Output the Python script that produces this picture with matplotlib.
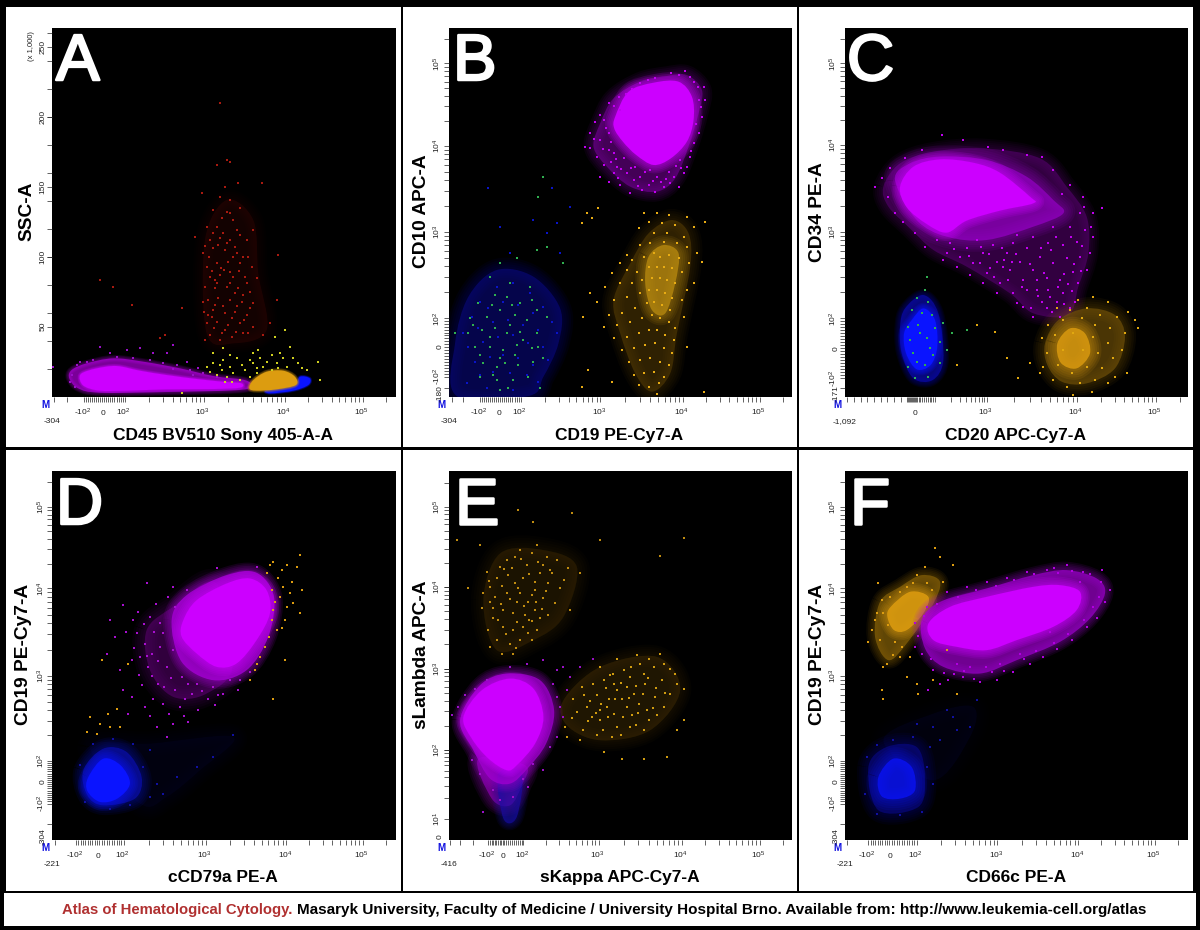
import numpy as np
import matplotlib
matplotlib.use('Agg')
import matplotlib.pyplot as plt
import matplotlib.patheffects as pe
from matplotlib.patches import PathPatch, Rectangle
from matplotlib.path import Path

plt.rcParams['font.family'] = ['Liberation Sans', 'DejaVu Sans']
plt.rcParams['mathtext.default'] = 'regular'

W, H = 1200, 930
MAGENTA = '#cc00ff'
BLUE = '#0a14ff'
ORANGE = '#dc9c10'
RED = '#a81a10'
YELLOW = '#cfcf20'
GREEN = '#30b050'

# panel data in display channels of each plot

# A
a_mag_core = [(245,1120),(290,1105),(350,1098),(420,1112),(500,1125),(600,1138),(680,1146),(725,1150),(720,1163),(640,1167),(500,1168),(380,1172),(300,1172),(255,1160),(240,1140)]
a_mag_halo = [(215,1110),(260,1090),(340,1075),(430,1085),(540,1105),(640,1128),(740,1142),(735,1168),(500,1176),(300,1178),(235,1165),(208,1135)]
a_orange_core = [(748,1165),(760,1140),(800,1115),(850,1112),(885,1130),(888,1155),(830,1168),(770,1172)]
a_blue_core = [(800,1170),(880,1158),(900,1130),(930,1135),(925,1155),(880,1172),(810,1180)]
a_red_area = [(615,720),(680,600),(760,660),(775,820),(800,990),(700,1030),(620,1000)]
a_red_dots = [(660,308),(680,480),(650,495),(690,485),(785,548),(715,550),(675,560),(660,590),(605,580),(690,600),(640,630),(680,635),(720,625),(620,680),(585,710),(650,680),(700,660),(760,690),(630,720),(660,715),(690,720),(720,705),(740,720),(610,760),(640,745),(675,750),(710,760),(745,770),(835,765),(620,800),(650,790),(685,785),(720,790),(755,800),(630,830),(660,825),(700,830),(735,830),(770,835),(615,860),(645,865),(680,860),(715,865),(750,875),(625,900),(655,895),(690,900),(725,905),(760,910),(830,900),(612,935),(640,930),(675,940),(705,935),(740,945),(620,970),(650,965),(685,975),(720,970),(760,980),(810,970),(630,1005),(665,1000),(695,1010),(730,1000),(545,925),(480,1015),(495,1005),(340,860),(300,840),(395,915),(660,1020),(635,950),(672,810),(698,770),(668,700),(628,772),(740,850),(705,880),(645,840),(655,735),(682,728),(705,742),(615,738),(637,812),(662,805),(690,815),(718,812),(728,770),(650,850),(690,850),(728,885),(645,915),(668,918),(712,918),(750,925),(625,945),(695,955),(732,960),(608,905),(642,985),(675,990),(708,995),(745,1000),(790,1005),(615,1020),(690,640),(665,655),(710,690),(640,700)]
a_yellow_dots = [(668,1045),(620,1100),(640,1090),(670,1080),(690,1100),(700,1120),(650,1125),(680,1130),(720,1140),(735,1110),(760,1090),(775,1050),(790,1100),(750,1130),(825,1010),(855,990),(840,1060),(870,1040),(830,1090),(860,1100),(895,1090),(955,1085),(920,1110),(770,1120),(710,1075),(780,1075),(640,1060),(665,1110),(545,1178),(960,1140),(850,1075),(815,1110),(630,1115),(690,1065),(660,1095),(725,1095),(750,1080),(770,1105),(800,1085),(815,1065),(835,1105),(880,1075),(905,1105),(760,1060),(695,1145),(675,1145)]
a_purple_dots = [(330,1060),(500,1060),(520,1035),(420,1045),(595,1105),(560,1085),(460,1060),(240,1085),(160,1100),(300,1040),(380,1050),(350,1070),(400,1075),(450,1080),(490,1090),(530,1095),(570,1110),(610,1120),(650,1130),(280,1080),(230,1095),(215,1125),(210,1145),(226,1160),(260,1085),(580,1125),(520,1108)]

# B
b_mag_core = [(645,350),(685,275),(760,248),(835,245),(875,290),(880,360),(860,425),(812,475),(760,495),(708,465),(668,425),(642,385)]
b_mag_halo = [(600,370),(640,295),(720,245),(800,228),(860,225),(905,270),(895,340),(865,440),(825,535),(770,575),(690,560),(620,500),(580,440)]
b_mag_dots = [(855,212),(880,245),(910,262),(835,225),(765,235),(720,250),(695,268),(655,290),(625,310),(600,345),(585,365),(570,400),(555,440),(600,420),(625,450),(590,470),(610,495),(640,520),(625,545),(660,555),(690,580),(725,570),(700,540),(745,555),(765,575),(790,560),(810,550),(835,560),(850,520),(868,470),(880,430),(895,400),(905,350),(915,300),(895,300),(650,500),(680,520),(720,530),(770,530),(805,515),(840,480),(860,500),(600,530),(570,445),(660,330),(625,400),(640,460),(672,475),(705,500),(750,510),(617,383),(633,427),(608,447),(648,478),(663,508),(693,503),(733,517),(782,545),(821,531),(843,503),(873,452),(888,372),(901,322),(892,262),(868,232),(813,218),(743,241),(676,281),(641,318),(612,361),(583,418),(631,487),(654,533),(712,557),(757,543),(797,537),(826,497)]
b_orange_core = [(745,770),(790,735),(835,760),(825,850),(795,940),(755,930),(735,850)]
b_orange_halo = [(690,790),(745,700),(815,660),(865,700),(870,800),(830,1000),(810,1120),(755,1175),(705,1120),(660,1000),(640,900)]
b_orange_dots = [(560,640),(575,655),(545,670),(595,625),(730,640),(770,640),(805,645),(860,650),(915,665),(745,665),(785,670),(825,675),(880,680),(715,685),(760,700),(800,700),(850,710),(680,765),(720,735),(750,730),(790,725),(830,730),(860,740),(890,760),(660,790),(695,780),(730,770),(760,760),(780,770),(805,765),(835,775),(865,790),(905,785),(635,820),(680,810),(710,815),(745,800),(770,800),(790,800),(815,805),(845,815),(880,850),(570,880),(615,860),(660,850),(695,850),(725,840),(755,835),(780,835),(800,840),(825,850),(860,870),(590,905),(640,900),(680,890),(720,880),(745,870),(770,870),(795,880),(815,895),(845,900),(625,945),(665,940),(705,925),(740,910),(760,905),(785,915),(810,930),(850,950),(610,980),(650,975),(690,965),(725,955),(755,945),(780,955),(805,965),(825,985),(550,950),(640,1015),(680,1010),(715,1000),(745,990),(770,990),(795,1005),(820,1020),(860,1040),(665,1050),(700,1045),(735,1035),(765,1030),(790,1045),(815,1060),(685,1085),(720,1080),(750,1075),(780,1085),(805,1095),(700,1125),(730,1120),(760,1115),(790,1130),(565,1110),(635,1145),(715,1155),(745,1160),(775,1150),(545,1160),(770,1183),(910,1175)]
b_blue_halo = [(165,1030),(205,890),(290,810),(400,830),(480,925),(475,1030),(430,1130),(385,1188),(170,1188)]
b_blue_dots = [(240,905),(290,860),(340,850),(390,880),(430,920),(215,950),(265,925),(310,905),(355,915),(400,940),(455,965),(190,1000),(235,985),(280,965),(325,960),(370,975),(415,990),(470,1000),(205,1040),(250,1025),(295,1010),(340,1005),(385,1030),(430,1040),(225,1085),(270,1070),(310,1065),(355,1075),(400,1095),(445,1080),(240,1125),(280,1115),(330,1120),(380,1125),(415,1145),(200,1150),(260,1165),(340,1170),(265,565),(455,565),(400,660),(300,680),(470,670),(510,620),(440,700),(330,760),(480,760)]
b_green_dots = [(430,530),(415,590),(440,740),(410,750),(350,775),(300,790),(490,790),(270,830),(330,850),(390,860),(285,885),(235,910),(320,890),(360,910),(410,930),(210,955),(260,950),(300,930),(345,945),(380,960),(440,950),(205,1000),(245,990),(285,985),(320,1000),(360,995),(410,1000),(225,1040),(270,1040),(310,1050),(350,1035),(395,1045),(430,1075),(250,1090),(290,1100),(315,1090),(355,1095),(400,1085),(240,1130),(290,1140),(340,1140),(385,1130),(165,1000),(300,1170),(420,1165),(275,915),(335,915),(395,900),(220,975),(270,1010),(330,975),(370,1020),(240,1065),(300,1075),(345,1065),(415,1040),(280,1125),(325,1165)]

# C
c_mag_core = [(300,560),(340,500),(420,478),(520,488),(600,518),(690,590),(700,610),(600,632),(500,662),(440,698),(380,672),(320,622)]
c_mag_mid = [(285,540),(330,490),(420,470),(560,480),(680,530),(760,600),(790,640),(700,680),(560,720),(440,710),(350,660)]
c_mag_halo = [(250,560),(300,490),(400,455),(550,445),(720,475),(800,560),(860,650),(865,760),(835,860),(805,945),(700,940),(630,880),(500,800),(400,750),(330,685),(265,620)]
c_mag_dots = [(225,560),(245,535),(270,505),(315,475),(365,450),(425,405),(490,420),(565,440),(610,450),(680,465),(725,470),(760,510),(810,555),(850,590),(880,640),(905,625),(880,710),(870,760),(860,810),(835,850),(825,905),(440,760),(480,770),(520,790),(560,820),(600,850),(640,880),(670,920),(700,950),(740,925),(780,950),(810,925),(450,730),(500,745),(550,760),(590,785),(630,810),(670,840),(710,870),(750,890),(790,880),(530,720),(580,735),(620,760),(660,785),(700,810),(740,835),(780,840),(820,815),(640,730),(680,745),(720,770),(760,790),(800,775),(840,770),(700,710),(745,730),(790,735),(830,725),(855,690),(760,680),(810,680),(840,640),(410,720),(375,740),(345,700),(310,665),(285,640),(265,590),(430,780),(470,800),(510,825),(550,850),(590,880),(650,910),(540,790),(610,800),(680,870),(725,905),(770,905),(463,747),(507,769),(543,741),(571,803),(613,781),(647,763),(689,793),(731,819),(773,861),(817,873),(793,913),(757,937),(713,889),(667,861),(623,841),(583,831),(567,761),(607,745),(651,705),(723,743),(767,711),(813,711),(847,737),(823,793),(791,821),(753,751),(711,841),(637,785),(693,925),(743,869),(843,813),(803,853),(873,681),(851,621),(787,581)]
c_blue_core = [(335,960),(370,925),(405,960),(412,1040),(392,1095),(350,1108),(318,1060),(312,1000)]
c_blue_halo = [(315,925),(370,885),(415,940),(430,1080),(398,1140),(340,1135),(305,1060),(300,980)]
c_orange_core = [(772,1030),(810,985),(855,1000),(870,1060),(830,1105),(782,1088)]
c_orange_halo = [(735,1030),(775,960),(860,925),(945,945),(975,1010),(945,1105),(860,1150),(785,1145),(742,1095)]
c_orange_dots = [(880,890),(835,900),(925,905),(985,935),(1005,960),(770,925),(810,930),(860,925),(900,945),(950,950),(745,975),(790,960),(845,955),(885,975),(930,985),(975,1000),(1015,985),(725,1015),(765,1005),(820,1000),(880,1010),(925,1030),(965,1050),(740,1060),(790,1050),(850,1050),(895,1060),(940,1075),(980,1120),(730,1100),(775,1095),(815,1120),(860,1100),(905,1105),(945,1130),(760,1140),(800,1160),(840,1150),(885,1140),(925,1150),(820,1185),(875,1175),(690,1090),(655,1135),(620,1075),(585,995),(530,975),(470,1095),(720,1120)]
c_green_dots = [(375,870),(350,895),(385,905),(335,930),(365,940),(395,945),(325,980),(355,975),(405,985),(330,1020),(380,1015),(420,1025),(340,1060),(400,1065),(325,1100),(375,1095),(420,1090),(345,1135),(385,1130),(430,970),(455,1000),(500,990),(360,1000),(390,1045),(350,1085),(440,1050),(380,830)]

# D
d_mag_core = [(550,510),(590,450),(680,400),(750,385),(800,420),(810,490),(770,570),(710,640),(650,650),(590,610),(545,560)]
d_mag_mid = [(515,510),(560,435),(680,375),(770,368),(822,440),(805,560),(740,660),(640,690),(545,635)]
d_mag_halo = [(440,540),(520,470),(650,400),(700,640),(620,730),(520,740),(450,660)]
d_mag_dots = [(440,400),(520,410),(560,420),(650,355),(770,350),(330,510),(370,465),(400,510),(345,560),(410,550),(450,500),(480,520),(435,580),(480,590),(525,470),(320,610),(395,630),(445,650),(500,650),(545,680),(590,700),(640,710),(690,690),(720,690),(750,665),(370,720),(425,705),(475,700),(525,720),(575,730),(625,745),(670,730),(715,720),(385,790),(435,770),(490,760),(540,770),(595,780),(645,765),(470,830),(520,820),(565,815),(360,660),(500,860),(455,610),(520,600),(490,550),(420,620),(460,745),(555,745),(413,487),(467,463),(503,441),(377,547),(431,523),(463,547),(403,593),(441,617),(473,633),(417,673),(457,677),(491,709),(513,683),(563,701),(607,723),(653,733),(507,791),(553,797),(451,797),(397,741)]
d_blue_core = [(265,980),(310,925),(362,945),(390,1000),(352,1045),(300,1055),(262,1022)]
d_blue_halo = [(250,960),(310,895),(380,905),(425,980),(405,1045),(310,1065),(262,1035)]
d_blue_far = [(270,890),(450,880),(700,860),(600,960),(500,1040),(420,1060)]
d_blue_dots = [(280,880),(340,865),(400,880),(450,900),(240,945),(430,950),(470,1000),(450,1040),(490,1030),(255,1055),(330,1075),(390,1065),(530,980),(590,950),(640,920),(700,855)]
d_orange_dots = [(820,335),(860,345),(890,350),(800,370),(835,385),(875,395),(900,315),(815,420),(850,410),(905,420),(825,455),(860,470),(880,460),(900,490),(815,510),(855,510),(830,540),(855,630),(780,620),(765,660),(820,745),(270,800),(325,790),(300,820),(330,830),(360,830),(290,850),(385,640),(305,630),(350,775),(810,345),(845,360),(840,440),(870,430),(820,480),(845,535),(808,560),(795,590),(770,640),(750,690),(260,845)]

# E
e_mag_core = [(190,800),(245,720),(330,685),(400,715),(430,800),(405,880),(350,945),(320,960),(265,925),(215,865)]
e_mag_halo = [(180,810),(240,705),(320,670),(420,690),(462,780),(438,880),(382,955),(330,1000),(270,985),(220,900)]
e_mag_low = [(235,925),(375,945),(365,1005),(330,1065),(275,1045)]
e_blue_low = [(295,970),(365,970),(350,1100),(310,1105)]
e_mag_dots = [(155,795),(175,770),(195,735),(225,715),(260,690),(330,650),(380,640),(430,630),(470,660),(490,650),(460,700),(500,720),(470,740),(490,800),(470,860),(450,890),(400,940),(370,985),(340,1040),(300,1050),(250,1085),(280,1020),(240,970),(215,930),(540,650),(580,625),(510,680),(480,770),(430,960),(385,1010)]
e_orange_upper = [(250,450),(300,310),(430,300),(530,350),(490,500),(400,570),(290,600)]
e_orange_lower = [(490,750),(600,650),(770,620),(840,720),(750,840),(600,870),(500,825)]
e_orange_dots = [(355,180),(515,190),(400,215),(285,215),(240,285),(170,270),(410,285),(345,320),(440,320),(300,350),(380,345),(420,370),(345,400),(270,410),(405,420),(205,415),(350,455),(385,455),(310,480),(420,505),(340,540),(295,510),(360,570),(270,590),(780,318),(850,265),(600,270),(360,300),(395,310),(320,330),(430,345),(470,330),(505,355),(540,370),(260,365),(290,385),(325,375),(370,385),(405,395),(445,400),(480,415),(250,430),(285,440),(320,430),(360,430),(395,435),(430,445),(465,460),(510,480),(245,475),(280,475),(340,490),(375,495),(405,480),(445,495),(265,540),(310,530),(370,530),(410,540),(290,570),(330,580),(395,570),(305,610),(340,610),(337,353),(363,327),(413,337),(457,369),(307,407),(353,413),(387,371),(437,423),(271,457),(303,463),(329,447),(373,467),(409,457),(351,517),(387,511),(317,551),(279,503),(425,477),(383,549),(347,593),(449,359),(491,389),(313,357),(267,393),(397,513)]
e_orange2_dots = [(640,700),(690,680),(730,670),(590,735),(650,720),(700,730),(560,770),(620,770),(680,770),(600,810),(650,830),(740,780),(790,640),(830,700),(610,905),(665,925),(800,920),(500,860),(600,650),(650,625),(710,615),(780,610),(545,710),(610,690),(670,660),(720,640),(760,650),(810,655),(520,745),(580,700),(630,675),(680,710),(735,700),(785,690),(850,715),(530,785),(575,800),(625,745),(665,745),(715,760),(765,740),(810,730),(495,830),(550,840),(600,780),(640,790),(695,795),(745,810),(790,770),(540,870),(590,855),(635,860),(690,830),(730,840),(850,810),(830,840),(730,925),(617,713),(663,697),(707,707),(743,683),(571,753),(603,761),(643,747),(687,743),(729,731),(767,713),(587,787),(623,801),(667,799),(713,787),(757,773),(563,811),(609,839),(663,853),(707,823),(771,795),(639,671),(691,649),(747,627),(553,733),(517,803),(793,727),(823,671)]

# F
f_mag_core = [(385,520),(450,470),(560,440),(700,410),(780,405),(840,425),(830,480),(760,530),(650,570),(560,600),(470,590),(400,570)]
f_mag_halo = [(365,510),(420,455),(560,415),(700,375),(800,360),(890,385),(915,430),(870,505),(780,575),(650,630),(540,670),(430,650),(375,595)]
f_mag_dots = [(345,520),(380,470),(440,425),(500,410),(560,395),(620,385),(680,365),(740,360),(800,345),(850,365),(905,360),(930,420),(915,455),(890,505),(860,530),(815,570),(770,595),(730,620),(690,640),(640,665),(590,690),(540,695),(490,680),(445,690),(400,660),(365,610),(345,590),(510,650),(600,640),(470,640),(575,665),(660,610),(750,545),(880,470),(840,395),(775,370),(420,700),(385,720),(461,671),(523,687),(557,651),(613,661),(673,627),(709,603),(761,577),(803,553),(851,509),(897,441),(903,397),(871,371),(817,363),(761,353),(701,371),(643,391),(587,407),(529,421),(473,441),(411,463),(371,497),(353,557),(393,627),(431,667),(491,661)]
f_orange_core = [(272,470),(330,425),(385,440),(370,490),(320,540),(282,540),(262,500)]
f_orange_halo = [(240,455),(300,410),(365,375),(420,395),(395,470),(320,580),(265,630),(225,560)]
f_blue_core = [(235,980),(280,925),(335,950),(345,1020),(300,1045),(245,1038)]
f_blue_halo = [(205,950),(260,890),(350,890),(375,980),(355,1070),(235,1080)]
f_blue_far = [(250,870),(400,790),(520,770),(510,860),(400,990)]
f_blue_dots = [(200,920),(230,885),(280,870),(340,860),(390,890),(380,950),(400,1000),(365,1085),(300,1095),(230,1090),(195,1030),(420,870),(470,840),(510,830),(440,780),(530,750),(350,820),(400,830),(460,800)]
f_orange_dots = [(405,295),(420,320),(375,350),(350,375),(460,345),(380,400),(320,410),(235,400),(430,395),(270,440),(250,490),(215,540),(205,575),(260,640),(250,650),(245,720),(300,620),(320,680),(350,700),(400,690),(470,730),(250,745),(355,730),(440,600),(245,450),(300,425),(340,400),(395,420),(230,490),(265,525),(225,510),(240,570),(285,575),(305,590),(280,615),(330,620)]

# x tick anchors: value -100, 0, 100, 1e3, 1e4, 1e5
a_xt = [252, 312, 375, 612, 855, 1088]
b_xt = [240, 300, 362, 600, 848, 1078]
c_xt = [322, 350, 405, 560, 830, 1068]
d_xt = [228, 298, 372, 617, 859, 1088]
e_xt = [265, 313, 370, 596, 845, 1078]
f_xt = [205, 275, 350, 592, 835, 1065]
# y tick anchors, same order
b_yt = [1130, 1040, 955, 695, 437, 190]
c_yt = [1135, 1045, 955, 695, 435, 190]
d_yt = [1060, 995, 932, 678, 415, 170]
f_yt = [1060, 995, 932, 678, 415, 170]

panels = [
    dict(name='A', xlim=(157, 1187), ylim=(1190, 84), px=(52.3, 28), xlab='CD45 BV510 Sony 405-A-A', ylab='SSC-A',
         xmin='-304', ymin='', xt=a_xt, yt=None, xneg=[200, 163], yneg=[], lab=(56, 80), xc=670, yc=635, ylx=27, xly=435),
    dict(name='B', xlim=(146, 1175), ylim=(1190, 84), px=(448.7, 28), xlab='CD19 PE-Cy7-A', ylab='CD10 APC-A',
         xmin='-304', ymin='-180', xt=b_xt, yt=b_yt, xneg=[190, 155], yneg=[1165], lab=(453, 80), xc=658, yc=635, ylx=421, xly=435),
    dict(name='C', xlim=(134, 1164), ylim=(1190, 84), px=(844.7, 28), xlab='CD20 APC-Cy7-A', ylab='CD34 PE-A',
         xmin='-1,092', ymin='-171', xt=c_xt, yt=c_yt, xneg=[302, 282, 262, 242, 222, 202, 182, 162, 142], yneg=[1165], lab=(847, 80), xc=647, yc=635, ylx=817, xly=435),
    dict(name='D', xlim=(157, 1187), ylim=(1168, 63), px=(52.3, 471), xlab='cCD79a PE-A', ylab='CD19 PE-Cy7-A',
         xmin='-221', ymin='-304', xt=d_xt, yt=d_yt, xneg=[165], yneg=[1120], lab=(56, 524), xc=670, yc=612, ylx=24, xly=877),
    dict(name='E', xlim=(146, 1175), ylim=(1168, 63), px=(448.7, 471), xlab='sKappa APC-Cy7-A', ylab='sLambda APC-A',
         xmin='-416', ymin='0', xt=e_xt, yt=None, xneg=[220, 180, 150], yneg=[], lab=(455, 524), xc=660, yc=615, ylx=421, xly=877),
    dict(name='F', xlim=(134, 1164), ylim=(1168, 63), px=(844.7, 471), xlab='CD66c PE-A', ylab='CD19 PE-Cy7-A',
         xmin='-221', ymin='-304', xt=f_xt, yt=f_yt, xneg=[140], yneg=[1120], lab=(850, 524), xc=647, yc=612, ylx=817, xly=877),
]


def blob(ax, pts, color, alpha=1.0, soft=0, z=2):
    # closed smooth outline through the listed points, optional soft rim
    p = np.array(pts, dtype=float)
    verts = [p[0]]
    codes = [Path.MOVETO]
    n = len(p)
    for i in range(n):
        p0, p1 = p[i], p[(i + 1) % n]
        c1 = p0 + (p1 - p[i - 1]) / 6
        c2 = p1 - (p[(i + 2) % n] - p0) / 6
        verts += [c1, c2, p1]
        codes += [Path.CURVE4] * 3
    path = Path(verts, codes)
    ax.add_patch(PathPatch(path, facecolor=color, edgecolor='none', alpha=alpha, zorder=z))
    if soft:
        for k in (1.0, 0.8, 0.6, 0.4, 0.2):
            ax.add_patch(PathPatch(path, facecolor='none', edgecolor=color, lw=soft * k, alpha=alpha * 0.14, zorder=z, joinstyle='round'))


def dots(ax, pts, color, s=1.6, z=4):
    p = np.array(pts, dtype=float)
    ax.scatter(p[:, 0], p[:, 1], s=s, c=color, marker='s', linewidths=0, zorder=z)


def log_ticks(anchors):
    # anchors: -100, 0, 100, 1e3, 1e4, 1e5 -> all minor and major positions
    n100, zero, p100, k1, k10, k100 = anchors
    pos = [zero - (zero - n100) * i / 10 for i in range(1, 11)]
    pos += [zero + (p100 - zero) * i / 10 for i in range(0, 11)]
    seq = [p100, k1, k10, k100, k100 + (k100 - k10)]
    for lo, hi in zip(seq[:-1], seq[1:]):
        pos += [lo + (hi - lo) * np.log10(m) for m in range(2, 11)]
    return pos


def setup_axes(fig, cfg):
    x0, y0 = cfg['px']
    ax = fig.add_axes([x0 / W, 1 - (y0 + 368.7) / H, 343.3 / W, 368.7 / H], facecolor='black')
    ax.set_xlim(*cfg['xlim'])
    ax.set_ylim(*cfg['ylim'])
    for s in ax.spines.values():
        s.set_visible(False)
    return ax


def style_ticks(ax, cfg):
    xt = cfg['xt']
    xpos = [v for v in log_ticks(xt) + cfg['xneg'] if cfg['xlim'][0] <= v <= cfg['xlim'][1]]
    ax.set_xticks(xpos, labels=[])
    ax.tick_params(axis='both', length=3.5, width=0.5, color='#222222')
    if cfg['name'] == 'C':
        names = [('0', xt[1]), ('10$^{3}$', xt[3]), ('10$^{4}$', xt[4]), ('10$^{5}$', xt[5])]
    else:
        names = [('-10$^{2}$', xt[0]), ('0', xt[1]), ('10$^{2}$', xt[2]), ('10$^{3}$', xt[3]), ('10$^{4}$', xt[4]), ('10$^{5}$', xt[5])]
    trans = ax.get_xaxis_transform()
    for t, v in names:
        ax.annotate(t, (v, 0), xycoords=trans, xytext=(-1, -13.5), textcoords='offset points', ha='center', va='baseline', fontsize=6, color='#222222')
    ax.annotate(cfg['xmin'], (0, 0), xycoords='axes fraction', xytext=(0, -19), textcoords='offset points', ha='center', va='baseline', fontsize=6, color='#222222')
    ax.annotate('M', (0, 0), xycoords='axes fraction', xytext=(-5, -2.5), textcoords='offset points', ha='center', va='top', fontsize=7, color='#1010e0', fontweight='bold')

    ytrans = ax.get_yaxis_transform()
    if cfg['name'] == 'A':
        # linear SSC scale, 50 per 210 channels
        ypos = [1190 - v * 4.2 for v in range(20, 261, 20)] + [1190 - v * 4.2 for v in range(50, 251, 50)]
        ax.set_yticks(ypos, labels=[])
        names_y = [(str(v), 1190 - v * 4.2) for v in range(50, 251, 50)]
        ax.annotate('(x 1,000)', (0, 0.95), xycoords='axes fraction', xytext=(-15, 0), textcoords='offset points', rotation=90, ha='center', va='center', fontsize=5.5, color='#222222')
    elif cfg['name'] == 'E':
        e_anchor = [1105, 900, 655, 410, 170]
        ypos = []
        for lo, hi in zip(e_anchor[:-1], e_anchor[1:]):
            ypos += [lo + (hi - lo) * np.log10(m) for m in range(1, 11)]
        ypos += [170 + (170 - 410) * np.log10(m) for m in range(2, 3)]
        ax.set_yticks(ypos, labels=[])
        names_y = [('10$^{1}$', 1105), ('10$^{2}$', 900), ('10$^{3}$', 655), ('10$^{4}$', 410), ('10$^{5}$', 170)]
    else:
        yt = cfg['yt']
        ypos = [v for v in log_ticks(yt) + cfg['yneg'] if cfg['ylim'][1] <= v <= cfg['ylim'][0]]
        ax.set_yticks(ypos, labels=[])
        names_y = [('-10$^{2}$', yt[0]), ('0', yt[1]), ('10$^{2}$', yt[2]), ('10$^{3}$', yt[3]), ('10$^{4}$', yt[4]), ('10$^{5}$', yt[5])]
    for t, v in names_y:
        ax.annotate(t, (0, v), xycoords=ytrans, xytext=(-4, 0), textcoords='offset points', rotation=90, ha='right', va='center', fontsize=6, color='#222222')
    if cfg['ymin']:
        ax.annotate(cfg['ymin'], (0, 0), xycoords='axes fraction', xytext=(-4, 2), textcoords='offset points', rotation=90, ha='right', va='center', fontsize=6, color='#222222')


fig = plt.figure(figsize=(W / 100, H / 100), dpi=100, facecolor='black')

# white panels behind the plots
for x0, y0, x1, y1 in [(6, 7, 401, 447), (403, 7, 797, 447), (799, 7, 1193, 447),
                       (6, 450, 401, 891), (403, 450, 797, 891), (799, 450, 1193, 891),
                       (4, 893, 1196, 926)]:
    fig.add_artist(Rectangle((x0 / W, 1 - y1 / H), (x1 - x0) / W, (y1 - y0) / H, transform=fig.transFigure, facecolor='white', edgecolor='none', zorder=0))

axes = {cfg['name']: setup_axes(fig, cfg) for cfg in panels}
for cfg in panels:
    ax = axes[cfg['name']]
    style_ticks(ax, cfg)
    t = fig.text(cfg['lab'][0] / W, 1 - cfg['lab'][1] / H, cfg['name'], color='white', fontsize=47, ha='left', va='baseline', zorder=10)
    t.set_path_effects([pe.withStroke(linewidth=1.8, foreground='white')])
    left = cfg['xlim'][0]
    fig.text((cfg['px'][0] + (cfg['xc'] - left) / 3) / W, 1 - cfg['xly'] / H, cfg['xlab'], fontsize=12.5, fontweight='bold', ha='center', va='center', zorder=5)
    top = 0 if cfg['name'] in 'ABC' else 450
    fig.text(cfg['ylx'] / W, 1 - (top + cfg['yc'] / 3) / H, cfg['ylab'], fontsize=13.8, fontweight='bold', rotation=90, ha='center', va='center', zorder=5)

# A
ax = axes['A']
blob(ax, a_red_area, '#5a0c08', alpha=0.22, soft=14)
dots(ax, a_red_dots, RED)
dots(ax, a_yellow_dots, YELLOW, s=1.3)
blob(ax, a_mag_halo, MAGENTA, alpha=0.6, soft=5)
blob(ax, a_mag_core, MAGENTA, soft=3)
dots(ax, a_purple_dots, '#9a10c8')
blob(ax, a_blue_core, BLUE, z=3, soft=2)
blob(ax, a_orange_core, ORANGE, z=3, soft=3)

# B
ax = axes['B']
blob(ax, b_blue_halo, '#0a0a8a', alpha=0.55, soft=16)
dots(ax, b_blue_dots, '#0a14c8', s=2.2, z=3)
dots(ax, b_green_dots, GREEN, s=1.8)
blob(ax, b_orange_halo, '#6a4a05', alpha=0.45, soft=16)
blob(ax, b_orange_core, '#b88a10', alpha=0.8, soft=14)
dots(ax, b_orange_dots, '#e8ac14')
blob(ax, b_mag_halo, '#8800ae', alpha=0.5, soft=14)
blob(ax, b_mag_core, MAGENTA, soft=12, z=3)
dots(ax, b_mag_dots, '#c000f0')

# C
ax = axes['C']
blob(ax, c_mag_halo, '#640080', alpha=0.5, soft=14)
blob(ax, c_mag_mid, '#9800c8', alpha=0.7, soft=16)
blob(ax, c_mag_core, MAGENTA, soft=12, z=3)
dots(ax, c_mag_dots, '#c000f0')
blob(ax, c_orange_halo, '#7c5a0a', alpha=0.6, soft=16)
blob(ax, c_orange_core, ORANGE, alpha=0.85, soft=16)
dots(ax, c_orange_dots, '#e0a810')
blob(ax, c_blue_halo, '#0a0ab0', alpha=0.7, soft=8)
blob(ax, c_blue_core, BLUE, soft=8, z=3)
dots(ax, c_green_dots, GREEN, s=1.8)

# D
ax = axes['D']
dots(ax, d_orange_dots, ORANGE)
blob(ax, d_mag_halo, '#6e0088', alpha=0.45, soft=18)
blob(ax, d_mag_mid, '#a800d8', alpha=0.8, soft=12)
blob(ax, d_mag_core, MAGENTA, soft=12, z=3)
dots(ax, d_mag_dots, '#a810d0')
blob(ax, d_blue_far, '#0a0a60', alpha=0.16, soft=18)
blob(ax, d_blue_halo, '#0a10b0', alpha=0.7, soft=14)
blob(ax, d_blue_core, BLUE, soft=12, z=3)
dots(ax, d_blue_dots, '#1010a0')

# E
ax = axes['E']
blob(ax, e_orange_upper, '#5a4006', alpha=0.3, soft=18)
blob(ax, e_orange_lower, '#5a4006', alpha=0.35, soft=16)
dots(ax, e_orange_dots, '#c08c10', s=1.3)
dots(ax, e_orange2_dots, '#d09c10', s=1.3)
blob(ax, e_mag_low, '#8a00b0', alpha=0.7, soft=14)
blob(ax, e_blue_low, '#1a10a8', alpha=0.65, soft=10, z=3)
blob(ax, e_mag_halo, '#a400d4', alpha=0.75, soft=12, z=3)
blob(ax, e_mag_core, MAGENTA, soft=10, z=3)
dots(ax, e_mag_dots, '#9a10c8')

# F
ax = axes['F']
blob(ax, f_blue_far, '#0a0a60', alpha=0.14, soft=18)
blob(ax, f_blue_halo, '#0a0aa0', alpha=0.5, soft=16)
blob(ax, f_blue_core, BLUE, alpha=0.75, soft=16)
dots(ax, f_blue_dots, '#1010a0')
dots(ax, f_orange_dots, ORANGE)
blob(ax, f_orange_halo, '#8a6408', alpha=0.7, soft=12)
blob(ax, f_orange_core, ORANGE, alpha=0.9, soft=12)
blob(ax, f_mag_halo, '#a000d0', alpha=0.7, soft=12, z=3)
blob(ax, f_mag_core, MAGENTA, soft=12, z=3)
dots(ax, f_mag_dots, '#b000e0')

# footer
fig.text(62 / W, 1 - 910 / H, 'Atlas of Hematological Cytology.', color='#b03030', fontsize=10.7, fontweight='bold', ha='left', va='center')
fig.text(297 / W, 1 - 910 / H, 'Masaryk University, Faculty of Medicine / University Hospital Brno. Available from: http://www.leukemia-cell.org/atlas', color='black', fontsize=11, fontweight='bold', ha='left', va='center')

fig.savefig('out.png', dpi=100, facecolor='black')
